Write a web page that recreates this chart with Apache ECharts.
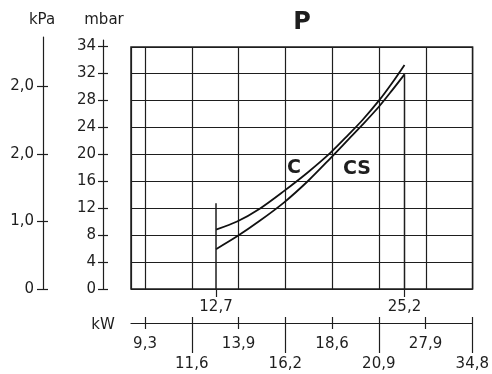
<!DOCTYPE html>
<html>
<head>
<meta charset="utf-8">
<title>P</title>
<script src="https://cdn.jsdelivr.net/npm/echarts@6/dist/echarts.min.js"></script>
<style>
  html, body { margin: 0; padding: 0; background: #fff; }
  #main { width: 492px; height: 374px; }
</style>
</head>
<body>
<div id="main"></div>
<script>
// curve data, kW vs mbar
var kwPoints = [12.7, 14.1, 15.6, 17.2, 18.8, 20.3, 21.5, 22.4, 23.5, 24.4, 25.2];
var cValues  = [8.8, 10.0, 11.9, 14.5, 17.3, 20.2, 22.9, 25.0, 27.9, 30.6, 33.2];
var csValues = [5.9, 7.8, 10.1, 12.8, 16.0, 19.4, 22.2, 24.3, 27.0, 29.5, 31.8];
var leftBoundTop = 12.7;

var kwMarks = [12.7, 25.2];
var mbarTicks = [0, 4, 8, 12, 16, 20, 24, 28, 32, 36];
var mbarLabels = ['0', '4', '8', '12', '16', '20', '24', '28', '32', '34'];
var kpaTicks = [0, 1, 2, 3];
var kpaLabels = ['0', '1,0', '2,0', '2,0'];
var kwScaleLabels = ['9,3', '11,6', '13,9', '16,2', '18,6', '20,9', '27,9', '34,8'];

var ink = '#1e1e1e';
var font = 'DejaVu Sans';
var lbl = { color: ink, fontFamily: font, fontSize: 15 };
var tickStyle = { color: ink, width: 1.2 };

function pairs(xs, ys) {
    return xs.map(function (x, i) { return [x, ys[i]]; });
}
function hiddenAxis(grid) {
    return { gridIndex: grid, type: 'value', show: false, min: 0, max: 1 };
}

var chart = echarts.init(document.getElementById('main'));

var option = {
    backgroundColor: '#fff',
    animation: false,
    grid: [
        { left: 131, right: 19.4, top: 47, bottom: 85, show: true, borderColor: ink, borderWidth: 1.5 },
        { left: 131, right: 19.4, top: 322, height: 1 },
        { left: 103, width: 1, top: 40, bottom: 85 },
        { left: 43, width: 1, top: 37, bottom: 85 },
        { left: 103, width: 1, top: 40, bottom: 85 },
        { left: 43, width: 1, top: 37, bottom: 85 }
    ],
    xAxis: [
        // grid lines
        { gridIndex: 0, type: 'value', min: -0.3, max: 7, minInterval: 1, maxInterval: 1, position: 'bottom',
          axisLine: { show: false }, axisTick: { show: false }, axisLabel: { show: false },
          splitLine: { show: true, lineStyle: { color: ink, width: 1.2 } } },
        // kW for curves
        { gridIndex: 0, type: 'value', min: 7.063, max: 29.716, position: 'bottom',
          axisLine: { show: false }, splitLine: { show: false },
          axisTick: { show: true, customValues: kwMarks, length: 8, lineStyle: tickStyle },
          axisLabel: Object.assign({ customValues: kwMarks, margin: 11,
              formatter: function (v) { return String(v).replace('.', ','); } }, lbl) },
        // bottom kW scale
        { gridIndex: 1, type: 'value', min: -0.3, max: 7, position: 'bottom',
          axisLine: { show: true, lineStyle: tickStyle }, splitLine: { show: false },
          axisTick: { show: true, inside: true, length: 6, customValues: [0, 1, 2, 3, 4, 5, 6, 7], lineStyle: tickStyle },
          axisLabel: Object.assign({ customValues: [0, 2, 4, 6], margin: 14,
              formatter: function (v) { return kwScaleLabels[Math.round(v)]; } }, lbl) },
        { gridIndex: 1, type: 'value', min: -0.3, max: 7, position: 'bottom',
          axisLine: { show: false }, splitLine: { show: false }, axisLabel: { show: false },
          axisTick: { show: true, length: 6, customValues: [0, 2, 4, 6], lineStyle: tickStyle } },
        { gridIndex: 1, type: 'value', min: -0.3, max: 7, position: 'bottom',
          axisLine: { show: false }, splitLine: { show: false },
          axisTick: { show: true, length: 30, customValues: [1, 3, 5, 7], lineStyle: tickStyle },
          axisLabel: Object.assign({ customValues: [1, 3, 5, 7], margin: 34,
              formatter: function (v) { return kwScaleLabels[Math.round(v)]; } }, lbl) },
        hiddenAxis(2),
        hiddenAxis(3),
        hiddenAxis(4),
        hiddenAxis(5)
    ],
    yAxis: [
        { gridIndex: 0, type: 'value', min: 0, max: 35.85, interval: 4,
          axisLine: { show: false }, axisTick: { show: false }, axisLabel: { show: false },
          splitLine: { show: true, lineStyle: { color: ink, width: 1.2 } } },
        // mbar
        { gridIndex: 2, type: 'value', min: 0, max: 36.89, position: 'left',
          axisLine: { show: true, lineStyle: tickStyle }, splitLine: { show: false },
          axisTick: { show: true, length: 5, customValues: mbarTicks, lineStyle: tickStyle },
          axisLabel: Object.assign({ customValues: mbarTicks, margin: 7,
              formatter: function (v) { return mbarLabels[mbarTicks.indexOf(Math.round(v))]; } }, lbl) },
        // kPa
        { gridIndex: 3, type: 'value', min: 0, max: 3.733, position: 'left',
          axisLine: { show: true, lineStyle: tickStyle }, splitLine: { show: false },
          axisTick: { show: true, length: 6, customValues: kpaTicks, lineStyle: tickStyle },
          axisLabel: Object.assign({ customValues: kpaTicks, margin: 9,
              formatter: function (v) { return kpaLabels[Math.round(v)]; } }, lbl) },
        // inner halves of the crossing ticks
        { gridIndex: 4, type: 'value', min: 0, max: 36.89, position: 'left',
          axisLine: { show: false }, splitLine: { show: false }, axisLabel: { show: false },
          axisTick: { show: true, inside: true, length: 5, customValues: mbarTicks, lineStyle: tickStyle } },
        { gridIndex: 5, type: 'value', min: 0, max: 3.733, position: 'left',
          axisLine: { show: false }, splitLine: { show: false }, axisLabel: { show: false },
          axisTick: { show: true, inside: true, length: 5, customValues: kpaTicks, lineStyle: tickStyle } },
        hiddenAxis(1)
    ],
    graphic: [
        { type: 'text', x: 302, y: 23, style: { text: 'P', fill: ink, font: 'bold 24px "DejaVu Sans"', align: 'center', verticalAlign: 'middle' } },
        { type: 'text', x: 294, y: 168, style: { text: 'C', fill: ink, font: 'bold 19px "DejaVu Sans"', align: 'center', verticalAlign: 'middle' } },
        { type: 'text', x: 357, y: 169, style: { text: 'CS', fill: ink, font: 'bold 19px "DejaVu Sans"', align: 'center', verticalAlign: 'middle' } },
        { type: 'text', x: 42, y: 20, style: { text: 'kPa', fill: ink, font: '15px "DejaVu Sans"', align: 'center', verticalAlign: 'middle' } },
        { type: 'text', x: 104, y: 20, style: { text: 'mbar', fill: ink, font: '15px "DejaVu Sans"', align: 'center', verticalAlign: 'middle' } },
        { type: 'text', x: 103, y: 325, style: { text: 'kW', fill: ink, font: '15px "DejaVu Sans"', align: 'center', verticalAlign: 'middle' } }
    ],
    series: [
        { name: 'C', type: 'line', xAxisIndex: 1, yAxisIndex: 0, smooth: 0.3, symbol: 'none',
          lineStyle: { color: '#111', width: 1.8 }, data: pairs(kwPoints, cValues) },
        { name: 'CS', type: 'line', xAxisIndex: 1, yAxisIndex: 0, smooth: 0.3, symbol: 'none',
          lineStyle: { color: '#111', width: 1.8 }, data: pairs(kwPoints, csValues) },
        { name: 'left', type: 'line', xAxisIndex: 1, yAxisIndex: 0, symbol: 'none',
          lineStyle: { color: ink, width: 1.5 }, data: [[kwPoints[0], 0], [kwPoints[0], leftBoundTop]] },
        { name: 'right', type: 'line', xAxisIndex: 1, yAxisIndex: 0, symbol: 'none',
          lineStyle: { color: ink, width: 1.5 },
          data: [[kwPoints[kwPoints.length - 1], 0], [kwPoints[kwPoints.length - 1], csValues[csValues.length - 1]]] }
    ]
};

chart.setOption(option);
</script>
</body>
</html>
